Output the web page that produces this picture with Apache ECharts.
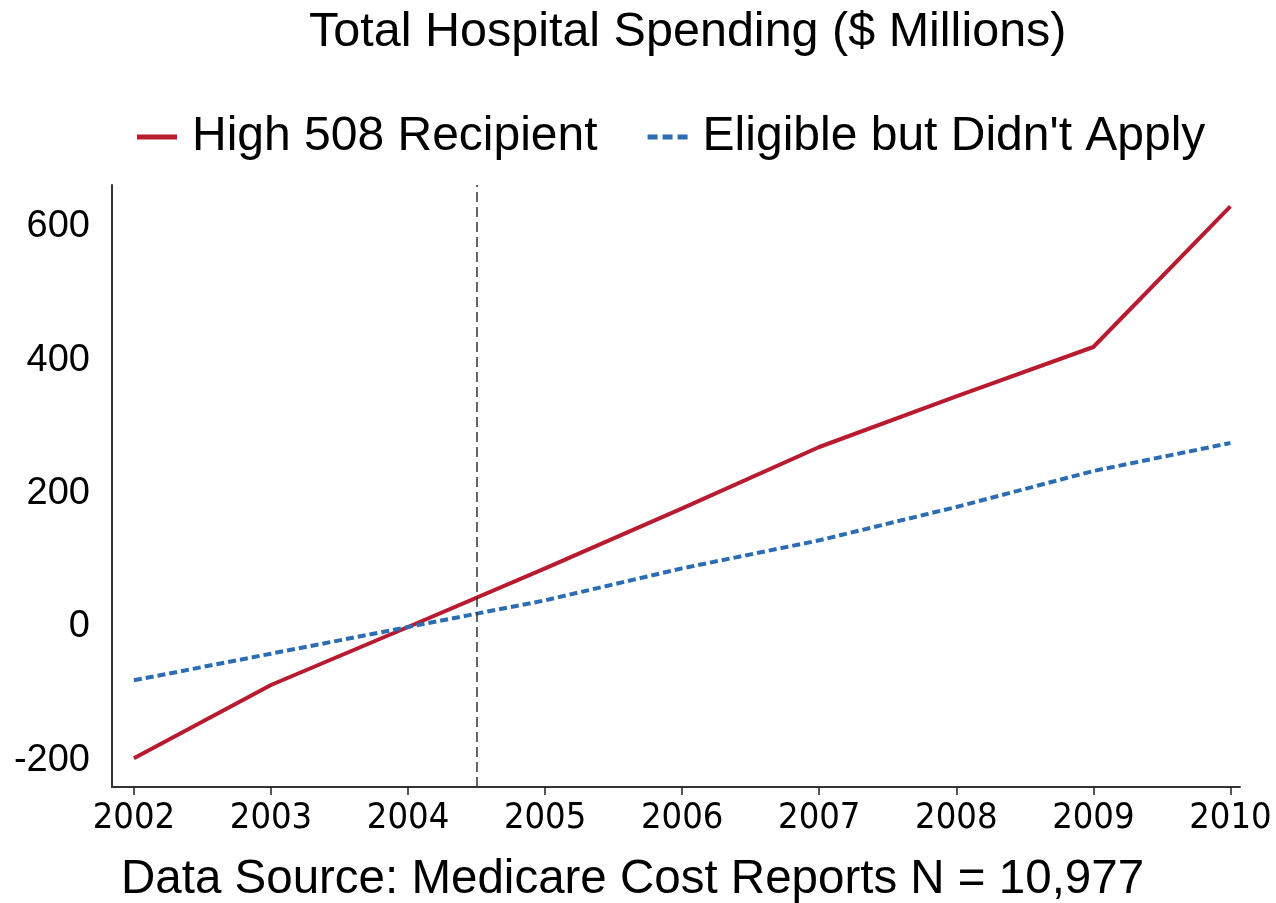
<!DOCTYPE html>
<html><head><meta charset="utf-8">
<script src="https://cdn.jsdelivr.net/npm/echarts@6/dist/echarts.min.js"></script>
<style>html,body{margin:0;padding:0;background:#fff}#c{width:1276px;height:903px}</style>
</head><body><div id="c"></div>
<script>
const years = [2002, 2003, 2004, 2005, 2006, 2007, 2008, 2009, 2010];
const high508 = [-197, -87, 0, 88, 178, 270, 346, 420, 631];
const eligible = [-80, -40, 0, 40, 88, 130, 180, 234, 276];
const yTicks = [-200, 0, 200, 400, 600];
const cutoffYear = 2004.5;
const seriesNames = ['High 508 Recipient', "Eligible but Didn't Apply"];

const font = 'Liberation Sans, Arial, sans-serif';
const narrow = '"Liberation Sans Narrow", "Arial Narrow", "DejaVu Sans Condensed", sans-serif';
const RED = '#b81a2f', BLUE = '#2b6cb3';
const chart = echarts.init(document.getElementById('c'));
chart.setOption({
  animation: false,
  backgroundColor: '#fff',
  title: [
    { text: 'Total Hospital Spending ($ Millions)', left: 304, top: 3,
      textStyle: { fontFamily: font, fontSize: 48.5, fontWeight: 'normal', color: '#000' } },
    { text: 'Data Source: Medicare Cost Reports N = 10,977', left: 116, top: 851,
      textStyle: { fontFamily: font, fontSize: 47.5, fontWeight: 'normal', color: '#000' } }
  ],
  legend: {
    top: 108, left: 132, itemWidth: 40, itemHeight: 5, itemGap: 50,
    textStyle: { fontFamily: font, fontSize: 48, color: '#000', padding: [0, 0, 0, 10] },
    data: [
      { name: seriesNames[0], icon: 'rect', itemStyle: { color: RED } },
      { name: seriesNames[1], icon: 'path://M0,0h10v5h-10z M15,0h10v5h-10z M30,0h10v5h-10z', itemStyle: { color: BLUE } }
    ]
  },
  grid: { left: 112, right: 36, top: 185, bottom: 116 },
  xAxis: {
    type: 'value', min: 2001.84, max: 2010.07,
    axisLine: { show: true, onZero: false, lineStyle: { color: '#333', width: 2 } },
    axisTick: { show: true, customValues: years, length: 8, lineStyle: { color: '#222', width: 1.5 } },
    axisLabel: { customValues: years, fontFamily: narrow, fontSize: 36, color: '#000', margin: 14,
      formatter: v => String(v) },
    splitLine: { show: false }
  },
  yAxis: {
    type: 'value', min: -240, max: 663,
    axisLine: { show: true, onZero: false, lineStyle: { color: '#333', width: 2 } },
    axisTick: { show: false },
    axisLabel: { customValues: yTicks, fontFamily: font, fontSize: 38, color: '#000', margin: 22 },
    splitLine: { show: false }
  },
  series: [
    { name: seriesNames[0], type: 'line', symbol: 'none',
      data: years.map((y, i) => [y, high508[i]]),
      lineStyle: { color: RED, width: 4 }, itemStyle: { color: RED },
      markLine: { silent: true, symbol: 'none', label: { show: false },
        lineStyle: { color: '#333', type: [10, 5], width: 1.5 },
        data: [{ xAxis: cutoffYear }] } },
    { name: seriesNames[1], type: 'line', symbol: 'none',
      data: years.map((y, i) => [y, eligible[i]]),
      lineStyle: { color: BLUE, width: 4, type: [8, 4] }, itemStyle: { color: BLUE } }
  ]
});
</script></body></html>
